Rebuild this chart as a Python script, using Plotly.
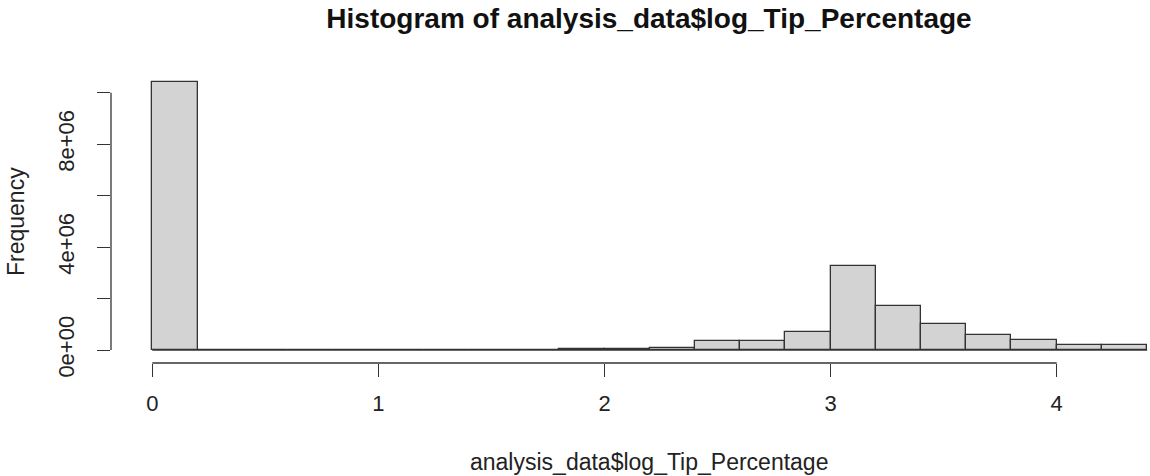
import plotly.graph_objects as go

# Histogram bins (left edges, width 0.2) and frequencies
bin_left = [0.0, 0.2, 0.4, 0.6, 0.8, 1.0, 1.2, 1.4, 1.6, 1.8, 2.0, 2.2,
            2.4, 2.6, 2.8, 3.0, 3.2, 3.4, 3.6, 3.8, 4.0, 4.2]
bin_width = 0.2
frequency = [10.40e6, 0, 0, 0, 0, 0, 0, 0, 0, 0.03e6, 0.04e6, 0.09e6,
             0.36e6, 0.36e6, 0.71e6, 3.26e6, 1.72e6, 1.00e6, 0.60e6, 0.37e6,
             0.19e6, 0.19e6]

x_ticks = [0, 1, 2, 3, 4]
y_ticks = [0, 2e6, 4e6, 6e6, 8e6, 10e6]
y_ticktext = ["0e+00", "", "4e+06", "", "8e+06", ""]

title_text = "Histogram of analysis_data$log_Tip_Percentage"
x_label = "analysis_data$log_Tip_Percentage"
y_label = "Frequency"

FONT = "Liberation Sans, Arial, sans-serif"
W, H = 1150, 476
L, R, T, B = 111, 0, 60, 113

centers = [b + bin_width / 2 for b in bin_left]

fig = go.Figure(go.Bar(
    x=centers, y=frequency, width=bin_width,
    marker=dict(color="#d3d3d3", line=dict(color="#333333", width=1.3)),
    hoverinfo="x+y",
))

fig.update_layout(
    width=W, height=H,
    margin=dict(l=L, r=R, t=T, b=B, pad=0),
    paper_bgcolor="white", plot_bgcolor="white",
    showlegend=False,
    font=dict(family=FONT, size=23, color="#222222"),
    title=dict(text="<b>" + title_text + "</b>", x=649 / W, xanchor="center",
               y=1 - 18 / H, yanchor="middle", xref="container", yref="container",
               font=dict(size=28, color="#111111")),
    xaxis=dict(range=[-0.1827, 4.4126], tickvals=x_ticks, ticktext=[str(v) for v in x_ticks],
               showgrid=False, zeroline=False, showline=False,
               ticks="outside", ticklen=13, tickwidth=1, tickcolor="#333333",
               ticklabelstandoff=8,
               tickfont=dict(size=22), fixedrange=True),
    yaxis=dict(range=[-0.505e6, 11.27e6], tickvals=y_ticks, ticktext=y_ticktext,
               tickangle=-90, showgrid=False, zeroline=False, showline=False,
               ticks="outside", ticklen=13, tickwidth=1, tickcolor="#333333",
               ticklabelstandoff=14,
               tickfont=dict(size=22), fixedrange=True),
    bargap=0,
)

# R-style axis lines spanning only the tick range
fig.add_shape(type="line", xref="x", yref="paper", x0=x_ticks[0], x1=x_ticks[-1], y0=0, y1=0,
              line=dict(color="#333333", width=1.3))
fig.add_shape(type="line", xref="paper", yref="y", x0=0, x1=0, y0=y_ticks[0], y1=y_ticks[-1],
              line=dict(color="#333333", width=1.3))
# baseline under empty bins
fig.add_shape(type="line", xref="x", yref="y", x0=bin_left[0], x1=bin_left[-1] + bin_width,
              y0=0, y1=0, line=dict(color="#333333", width=1.3), layer="above")

fig.add_annotation(text=x_label, xref="paper", yref="paper",
                   x=(649 - L) / (W - L - R), y=-(462 - (H - B)) / (H - T - B),
                   xanchor="center", yanchor="middle", showarrow=False,
                   font=dict(size=23))
fig.add_annotation(text=y_label, xref="paper", yref="paper",
                   x=-(L - 16) / (W - L - R), y=(H - B - 222) / (H - T - B),
                   xanchor="center", yanchor="middle", textangle=-90, showarrow=False,
                   font=dict(size=23))

fig.write_html("out.html")
